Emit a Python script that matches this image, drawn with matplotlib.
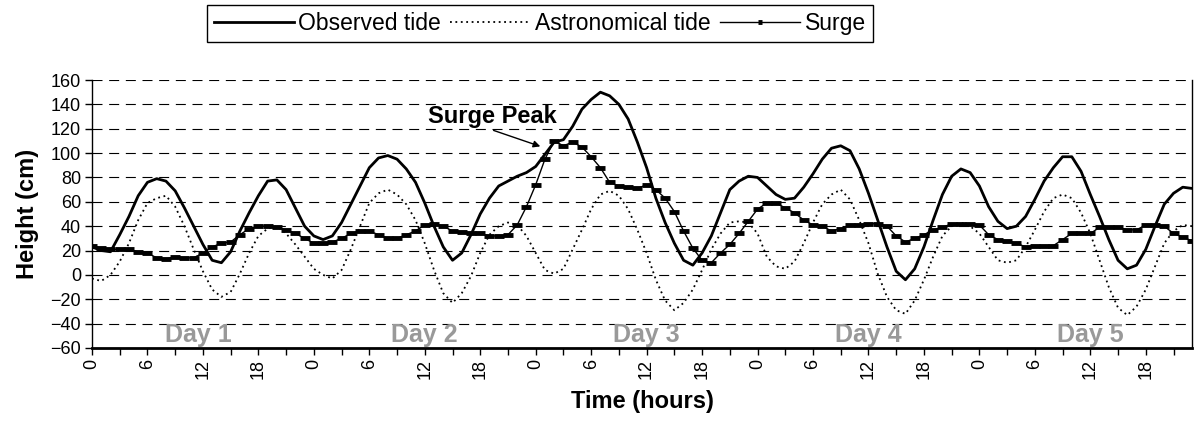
import matplotlib
matplotlib.use('Agg')
import matplotlib.pyplot as plt

plt.rcParams['font.family'] = ['Liberation Sans', 'DejaVu Sans']

# hourly values, 5 days (0..119 h)
hours = list(range(120))

observed = [
    23, 20, 19, 33, 48, 65, 76, 79, 77, 69,
    55, 40, 25, 12, 10, 19, 36, 51, 65, 77,
    78, 70, 55, 40, 32, 29, 32, 43, 58, 73,
    88, 96, 98, 95, 87, 76, 59, 40, 23, 12,
    18, 33, 50, 63, 73, 77, 81, 84, 89, 99,
    109, 111, 122, 136, 144, 150, 147, 140, 128, 109,
    88, 63, 43, 26, 12, 8, 18, 32, 51, 70,
    77, 81, 80, 73, 66, 62, 63, 72, 83, 95,
    104, 106, 102, 87, 67, 45, 23, 3, -4, 5,
    23, 45, 66, 81, 87, 84, 73, 56, 44, 38,
    40, 48, 62, 77, 88, 97, 97, 85, 66, 48,
    29, 12, 5, 8, 21, 40, 58, 67, 72, 71,
]

astronomical = [
    -3, -5, 0, 11, 26, 45, 59, 63, 65, 56,
    40, 21, 3, -12, -18, -14, 1, 18, 32, 38,
    40, 34, 25, 15, 5, 0, -3, 4, 21, 40,
    59, 67, 70, 66, 58, 45, 26, 4, -15, -23,
    -15, -1, 18, 33, 40, 43, 41, 32, 18, 4,
    1, 5, 21, 37, 54, 66, 69, 65, 54, 37,
    18, -4, -21, -29, -23, -12, 4, 21, 34, 43,
    44, 43, 34, 15, 7, 5, 11, 26, 43, 58,
    66, 70, 62, 45, 26, 1, -18, -29, -32, -21,
    -4, 15, 32, 40, 43, 40, 34, 23, 12, 10,
    12, 23, 37, 52, 63, 66, 63, 51, 34, 12,
    -10, -27, -33, -26, -12, 7, 26, 36, 41, 40,
]

surge = [
    24, 22, 21, 21, 21, 19, 18, 14, 13, 15,
    14, 14, 18, 23, 26, 27, 33, 38, 40, 40,
    39, 37, 34, 30, 26, 26, 27, 30, 34, 36,
    36, 33, 30, 30, 33, 36, 41, 42, 40, 36,
    35, 34, 34, 32, 32, 33, 41, 56, 74, 95,
    110, 106, 109, 105, 97, 88, 76, 73, 72, 71,
    74, 70, 63, 52, 36, 22, 12, 10, 18, 25,
    34, 44, 54, 59, 59, 55, 51, 45, 41, 40,
    36, 38, 41, 41, 42, 42, 40, 32, 27, 30,
    33, 37, 39, 42, 42, 42, 41, 33, 29, 28,
    26, 23, 24, 24, 24, 29, 34, 34, 34, 39,
    39, 39, 37, 37, 41, 41, 40, 34, 31, 28,
]

day_labels = ['Day 1', 'Day 2', 'Day 3', 'Day 4', 'Day 5']
day_pos = [11.5, 36, 60, 84, 108]
y_ticks = list(range(-60, 161, 20))

fig = plt.figure(figsize=(11.94, 4.30), dpi=100)
ax = fig.add_axes([92 / 1194, 82 / 430, 1100 / 1194, 268 / 430])

# dashed horizontal grid
for v in y_ticks:
    ax.axhline(v, color='black', lw=0.8, ls=(0, (9, 6)), zorder=1)

ax.plot(hours, astronomical, color='black', lw=1.3, ls=(0, (1, 2)),
        label='Astronomical tide', zorder=2)
ax.plot(hours, observed, color='black', lw=2.0, label='Observed tide', zorder=3)
ax.plot(hours, surge, color='black', lw=1.0, marker='_', ms=7, mew=3.5,
        label='Surge', zorder=4)

for lab, p in zip(day_labels, day_pos):
    ax.text(p, -49, lab, color='#999999', fontsize=18, fontweight='bold',
            ha='center', va='center', zorder=5)

ax.annotate('Surge Peak', xy=(48.5, 105.5), xytext=(36.3, 125),
            fontsize=17, fontweight='bold', ha='left', va='baseline',
            arrowprops=dict(arrowstyle='-|>', color='black', lw=1,
                            mutation_scale=10, shrinkA=0, shrinkB=0,
                            relpos=(0.45, 0)))

ax.set_xlim(0, 119)
ax.set_ylim(-60, 160)
ax.set_yticks(y_ticks)
ax.set_xticks(list(range(0, 120, 3)))
ax.set_xticklabels([str(h % 24) if h % 6 == 0 else '' for h in range(0, 120, 3)],
                   rotation=90)
ax.tick_params(axis='both', direction='out', length=5, width=1, labelsize=13,
               color='black', pad=3)
ax.spines['top'].set_visible(False)
ax.spines['bottom'].set_linewidth(2)
ax.spines['left'].set_linewidth(1)
ax.spines['right'].set_linewidth(1)

ax.set_ylabel('Height (cm)', fontsize=17, fontweight='bold', labelpad=8)
ax.set_xlabel('Time (hours)', fontsize=17, fontweight='bold', labelpad=8)

order = {'Observed tide': 0, 'Astronomical tide': 1, 'Surge': 2}
lines = [l for l in ax.get_lines() if l.get_label() in order]
lines.sort(key=lambda l: order[l.get_label()])
leg = fig.legend(lines, [l.get_label() for l in lines], loc='center',
                 bbox_to_anchor=(0.452, 0.946), ncol=3, fontsize=16.5,
                 frameon=True, fancybox=False, edgecolor='black',
                 framealpha=1, handlelength=3.5, handletextpad=0.2,
                 columnspacing=0.4, borderpad=0.3, markerscale=0.5)
leg.get_frame().set_linewidth(1)

plt.savefig('out.png', dpi=100)
